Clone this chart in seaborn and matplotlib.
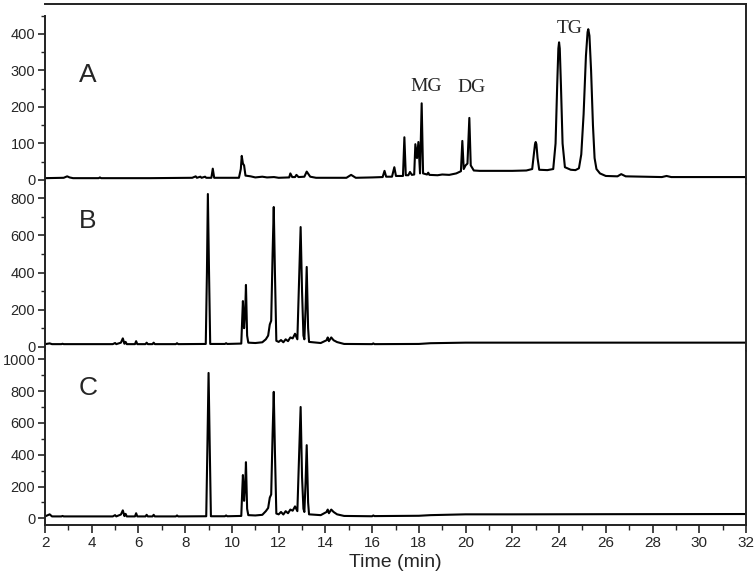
import numpy as np
import pandas as pd
import matplotlib
matplotlib.use('Agg')
import matplotlib.pyplot as plt
from matplotlib.ticker import MultipleLocator
import seaborn as sns

sns.set_style('ticks')
plt.rcParams['font.family'] = ['Liberation Sans', 'DejaVu Sans']

# chromatogram traces: (time in min, signal)
a_time = [2.0, 2.8, 2.95, 3.05, 3.2, 4.3, 4.35, 4.4, 6.5, 8.3, 8.45, 8.5, 8.65, 8.7, 8.85, 8.9,
          9.12, 9.18, 9.24, 10.3, 10.38, 10.42, 10.47, 10.52, 10.58, 10.8, 11.0, 11.3, 11.5,
          11.8, 12.0, 12.45, 12.5, 12.58, 12.7, 12.76, 12.85, 13.1, 13.2, 13.35, 13.6, 14.9,
          15.1, 15.3, 16.0, 16.45, 16.53, 16.6, 16.85, 16.95, 17.02, 17.32, 17.38, 17.44,
          17.55, 17.62, 17.7, 17.8, 17.85, 17.92, 17.98, 18.05, 18.12, 18.18, 18.35, 18.4,
          18.45, 18.8, 19.0, 19.3, 19.6, 19.8, 19.86, 19.92, 20.0, 20.08, 20.16, 20.22,
          20.35, 20.6, 21.0, 22.0, 22.6, 22.85, 22.92, 22.97, 23.0, 23.03, 23.08, 23.15,
          23.5, 23.75, 23.85, 23.92, 23.97, 24.0, 24.03, 24.08, 24.15, 24.25, 24.5, 24.7,
          24.85, 24.95, 25.05, 25.15, 25.22, 25.25, 25.3, 25.37, 25.45, 25.52, 25.6, 25.75,
          26.0, 26.5, 26.66, 26.85, 28.4, 28.6, 28.8, 32.0]
a_signal = [5, 6, 10, 7, 5, 5, 7, 5, 5, 6, 10, 6, 9, 6, 9, 6,
            6, 31, 6, 6, 30, 66, 45, 40, 12, 10, 7, 9, 7,
            8, 6, 7, 18, 8, 8, 14, 8, 9, 23, 9, 6, 6,
            14, 6, 7, 8, 25, 9, 9, 35, 11, 11, 117, 13,
            13, 22, 14, 15, 98, 60, 104, 18, 210, 18, 15, 20,
            14, 13, 15, 14, 18, 24, 107, 30, 40, 45, 170, 40,
            26, 25, 25, 25, 26, 30, 70, 98, 104, 98, 60, 28,
            27, 30, 100, 260, 360, 377, 360, 260, 100, 35, 28, 27,
            32, 70, 180, 340, 405, 413, 395, 300, 150, 60, 30, 18,
            11, 10, 16, 10, 8, 11, 8, 8]

b_time = [2.0, 2.2, 2.3, 2.7, 2.75, 2.8, 3.5, 4.9, 5.0, 5.05, 5.25, 5.33, 5.4, 5.45, 5.5,
          5.85, 5.9, 5.95, 6.3, 6.35, 6.4, 6.6, 6.65, 6.7, 7.6, 7.65, 7.7, 8.88, 8.93, 8.97,
          9.02, 9.07, 9.7, 9.75, 9.8, 10.4, 10.44, 10.47, 10.52, 10.57, 10.6, 10.65, 10.7,
          11.0, 11.3, 11.45, 11.55, 11.62, 11.68, 11.74, 11.79, 11.84, 11.9, 12.0, 12.1,
          12.2, 12.3, 12.4, 12.5, 12.6, 12.7, 12.8, 12.86, 12.94, 13.0, 13.06, 13.1, 13.15,
          13.2, 13.26, 13.3, 13.8, 14.05, 14.1, 14.15, 14.25, 14.35, 14.5, 14.8, 16.0, 16.05,
          16.1, 18.0, 18.5, 20.0, 22.0, 26.0, 32.0]
b_signal = [14, 18, 14, 14, 16, 14, 14, 14, 20, 14, 22, 45, 16, 26, 14,
            14, 30, 14, 14, 22, 14, 14, 22, 14, 14, 19, 14, 15, 400, 823,
            400, 15, 15, 19, 15, 17, 150, 246, 100, 200, 333, 60, 22,
            20, 24, 40, 60, 120, 140, 500, 753, 400, 32, 26, 36,
            24, 40, 30, 50, 45, 70, 40, 300, 645, 300, 60, 40, 200,
            430, 100, 26, 20, 35, 50, 30, 50, 35, 25, 15, 14, 18,
            14, 15, 19, 22, 22, 22, 22]

c_time = [2.0, 2.2, 2.3, 2.7, 2.75, 2.8, 3.5, 4.9, 5.0, 5.05, 5.25, 5.33, 5.4, 5.45, 5.5,
          5.85, 5.9, 5.95, 6.3, 6.35, 6.4, 6.6, 6.65, 6.7, 7.6, 7.65, 7.7, 8.9, 8.95, 9.0,
          9.05, 9.1, 9.7, 9.75, 9.8, 10.4, 10.44, 10.47, 10.52, 10.57, 10.6, 10.65, 10.7,
          11.0, 11.3, 11.45, 11.55, 11.62, 11.68, 11.74, 11.79, 11.84, 11.9, 12.0, 12.1,
          12.2, 12.3, 12.4, 12.5, 12.6, 12.7, 12.8, 12.86, 12.94, 13.0, 13.06, 13.1, 13.15,
          13.2, 13.26, 13.3, 13.8, 14.05, 14.1, 14.15, 14.25, 14.35, 14.5, 14.8, 16.0, 16.05,
          16.1, 18.0, 18.5, 20.0, 22.0, 26.0, 32.0]
c_signal = [12, 25, 12, 12, 15, 12, 12, 12, 20, 12, 24, 50, 14, 28, 12,
            12, 32, 12, 12, 22, 12, 12, 22, 12, 12, 18, 12, 13, 450, 914,
            450, 13, 13, 18, 13, 15, 170, 272, 110, 220, 353, 60, 20,
            18, 22, 45, 65, 130, 150, 530, 795, 420, 30, 25, 40,
            24, 45, 32, 55, 48, 75, 45, 330, 700, 260, 60, 40, 220,
            460, 100, 25, 20, 40, 55, 32, 55, 40, 25, 15, 13, 18,
            14, 16, 20, 25, 25, 26, 27]

panel_names = ['A', 'B', 'C']
peak_names = ['MG', 'DG', 'TG']
peak_label_time = [18.3, 20.25, 24.45]
peak_label_signal = [255, 252, 416]
x_ticks = list(range(2, 33, 2))

fig = plt.figure(figsize=(7.56, 5.79), dpi=100)
W, H = 756, 579
left, width = 45 / W, (746 - 45) / W
# (top px, bottom px, ylim, minor step, major ticks)
layout = [
    (4, 184, (-11, 482), 50, [0, 100, 200, 300, 400]),
    (184, 351, (-23, 877), 100, [0, 200, 400, 600, 800]),
    (351, 525, (-42, 1052), 100, [0, 200, 400, 600, 800, 1000]),
]
traces = [(a_time, a_signal), (b_time, b_signal), (c_time, c_signal)]
letter_y = [288, 678, 820]

axes = []
for i, (top, bot, ylim, minor, yt) in enumerate(layout):
    ax = fig.add_axes([left, 1 - bot / H, width, (bot - top) / H])
    t, s = traces[i]
    df = pd.DataFrame({'time': t, 'signal': s})
    sns.lineplot(data=df, x='time', y='signal', ax=ax, color='black', lw=1.5,
                 estimator=None, sort=False)
    ax.set_xlim(2, 32)
    ax.set_ylim(*ylim)
    ax.set_yticks(yt)
    ax.yaxis.set_minor_locator(MultipleLocator(minor))
    ax.set_xlabel('')
    ax.set_ylabel('')
    ax.tick_params(axis='y', which='major', direction='out', length=5, width=1.2,
                   labelsize=10.5, pad=2)
    ax.tick_params(axis='y', which='minor', direction='out', length=3, width=1.0)
    for sp in ax.spines.values():
        sp.set_color('#222222')
        sp.set_linewidth(1.4)
    ax.spines['right'].set_visible(True)
    ax.spines['top'].set_visible(i == 0)
    ax.spines['bottom'].set_visible(i == 2)
    if i == 0:
        ax.spines['left'].set_bounds(ylim[0], 450)
    ax.text(3.45, letter_y[i], panel_names[i], fontsize=19, ha='left', va='center')
    if i < 2:
        ax.tick_params(axis='x', which='both', bottom=False, labelbottom=False)
    axes.append(ax)

ax_a = axes[0]
for name, tx, ty in zip(peak_names, peak_label_time, peak_label_signal):
    ax_a.text(tx, ty, name, fontsize=14, ha='center', va='center',
              family=['Liberation Serif', 'DejaVu Serif'])

ax_c = axes[2]
ax_c.set_xticks(x_ticks)
ax_c.xaxis.set_minor_locator(MultipleLocator(1))
ax_c.tick_params(axis='x', which='major', direction='out', length=6, width=1.2,
                 labelsize=11, pad=2)
ax_c.tick_params(axis='x', which='minor', direction='out', length=3.5, width=1.0)
ax_c.set_xlabel('Time (min)', fontsize=14, labelpad=3)

fig.savefig('out.png', dpi=100)
